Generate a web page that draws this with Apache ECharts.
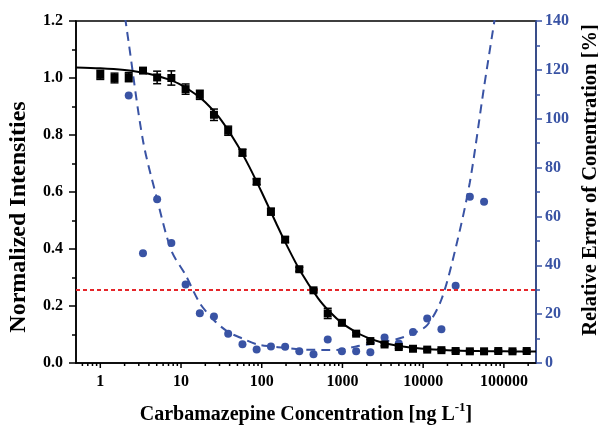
<!DOCTYPE html>
<html>
<head>
<meta charset="utf-8">
<script src="https://cdn.jsdelivr.net/npm/echarts@6/dist/echarts.min.js"></script>
<style>
html,body{margin:0;padding:0;background:#fff;}
#chart{width:598px;height:427px;}
</style>
</head>
<body>
<div id="chart"></div>
<script>
// ---- data ----
const concentrations = [1, 1.5, 2.25, 3.38, 5.06, 7.59, 11.4, 17.1, 25.6, 38.4, 57.7, 86.5, 130, 195, 292, 438, 657, 985, 1478, 2217, 3325, 4988, 7482, 11223, 16834, 25251, 37877, 56815, 85223, 127834, 191751];
const intensities = [1.011, 1.000, 1.003, 1.026, 1.002, 1.000, 0.961, 0.941, 0.871, 0.815, 0.738, 0.636, 0.531, 0.433, 0.329, 0.255, 0.174, 0.141, 0.103, 0.077, 0.065, 0.056, 0.050, 0.047, 0.045, 0.042, 0.041, 0.041, 0.042, 0.041, 0.042];
const intensityErrors = [0.016, 0.017, 0.016, 0.007, 0.022, 0.025, 0.018, 0.016, 0.020, 0.016, 0.012, 0.010, 0.012, 0.010, 0.007, 0.006, 0.018, 0.008, 0.006, 0.005, 0.005, 0.005, 0.005, 0.005, 0.005, 0.005, 0.005, 0.005, 0.005, 0.005, 0.005];
const fitX = [0.5, 1, 2, 3, 5, 7, 10, 15, 20, 30, 50, 70, 100, 150, 200, 300, 500, 700, 1000, 1500, 2000, 3000, 5000, 10000, 20000, 50000, 100000, 250000];
const fitY = [1.037, 1.034, 1.028, 1.021, 1.008, 0.995, 0.976, 0.944, 0.915, 0.860, 0.765, 0.689, 0.599, 0.492, 0.418, 0.323, 0.227, 0.179, 0.139, 0.107, 0.090, 0.073, 0.060, 0.050, 0.045, 0.042, 0.041, 0.040];
const relErrorPoints = [null, null, 109.5, 44.9, 67.0, 49.1, 32.1, 20.4, 19.0, 12.0, 7.7, 5.5, 6.8, 6.7, 4.8, 3.6, 9.6, 4.8, 4.8, 4.4, 10.4, 8.0, 12.7, 18.2, 13.8, 31.6, 68.1, 66.0, null, null, null];
const relErrorCurve = [null, 172, 131, 91, 67, 46, 36, 24.5, 17.5, 12.7, 10, 7.7, 6.8, 6.2, 5.6, 5.4, 5.3, 5.5, 6.8, 7.8, 8.8, 10, 12, 15.5, 26, 47, 74, 113, 150, null, null];
const threshold = 30;
const xMajorTicks = [1, 10, 100, 1000, 10000, 100000];
const xMinorTicks = [0.6, 0.7, 0.8, 0.9, 2, 3, 4, 5, 6, 7, 8, 9, 20, 30, 40, 50, 60, 70, 80, 90, 200, 300, 400, 500, 600, 700, 800, 900, 2000, 3000, 4000, 5000, 6000, 7000, 8000, 9000, 20000, 30000, 40000, 50000, 60000, 70000, 80000, 90000, 200000];

// ---- build ----
const BLUE = '#3953a4';
const FONT = '"Liberation Serif", "Times New Roman", serif';
const pairs = (xs, ys) => xs.map((x, i) => [x, ys[i]]).filter(p => p[1] !== null && p[1] !== undefined);
const errData = concentrations.map((c, i) => [c, intensities[i] - intensityErrors[i], intensities[i] + intensityErrors[i]]);

const chart = echarts.init(document.getElementById('chart'), null, {renderer: 'canvas'});

function tickSeries(values, len) {
  return {
    type: 'custom', xAxisIndex: 0, yAxisIndex: 0, clip: false, silent: true, z: 5,
    data: values.map(v => [v]),
    renderItem: function (params, api) {
      const p = api.coord([api.value(0), 0]);
      return {type: 'line', shape: {x1: p[0], y1: p[1], x2: p[0], y2: p[1] + len},
        style: {stroke: '#000', lineWidth: 1.5}};
    }
  };
}

chart.setOption({
  animation: false,
  backgroundColor: '#fff',
  grid: {left: 76, right: 62, top: 21, bottom: 64, containLabel: false, outerBoundsMode: 'none',
    show: true, borderColor: '#000', borderWidth: 1.5, backgroundColor: 'transparent'},
  xAxis: {
    type: 'log', min: 0.5, max: 250000, logBase: 10,
    axisLine: {lineStyle: {color: '#000', width: 1.5}},
    axisTick: {show: false},
    splitLine: {show: false},
    axisLabel: {
      color: '#000', fontFamily: FONT, fontWeight: 'bold', fontSize: 16, margin: 11,
      formatter: function (v) {
        const l = Math.log10(v);
        return Math.abs(l - Math.round(l)) < 1e-6 ? String(Math.round(v)) : '';
      }
    },
    name: '{t|Carbamazepine Concentration [ng L}{s|-1}{t|]}',
    nameLocation: 'middle', nameGap: 38,
    nameTextStyle: {
      rich: {
        t: {fontFamily: FONT, fontWeight: 'bold', fontSize: 20, color: '#000', verticalAlign: 'bottom', lineHeight: 24},
        s: {fontFamily: FONT, fontWeight: 'bold', fontSize: 13, color: '#000', verticalAlign: 'top', lineHeight: 24, padding: [0, 0, 11, 0]}
      }
    }
  },
  yAxis: [
    {
      type: 'value', min: 0, max: 1.2, interval: 0.2, position: 'left',
      axisLine: {show: true, lineStyle: {color: '#000', width: 1.5}},
      axisTick: {show: true, length: 7, lineStyle: {color: '#000', width: 1.5}},
      minorTick: {show: true, splitNumber: 2, length: 4, lineStyle: {color: '#000', width: 1.5}},
      splitLine: {show: false},
      axisLabel: {color: '#000', fontFamily: FONT, fontWeight: 'bold', fontSize: 16, margin: 13,
        formatter: v => v.toFixed(1)},
      name: 'Normalized Intensities', nameLocation: 'middle', nameGap: 45, nameRotate: 90,
      nameTextStyle: {fontFamily: FONT, fontWeight: 'bold', fontSize: 24, color: '#000', padding: [0, 50, 0, 0]}
    },
    {
      type: 'value', min: 0, max: 140, interval: 20, position: 'right',
      axisLine: {show: true, lineStyle: {color: BLUE, width: 1.5}},
      axisTick: {show: true, length: 6, lineStyle: {color: BLUE, width: 1.5}},
      minorTick: {show: true, splitNumber: 2, length: 4, lineStyle: {color: BLUE, width: 1.5}},
      splitLine: {show: false},
      axisLabel: {color: BLUE, fontFamily: FONT, fontWeight: 'bold', fontSize: 16, margin: 9},
      name: 'Relative Error of Conentration [%]', nameLocation: 'middle', nameGap: 43, nameRotate: 90,
      nameTextStyle: {fontFamily: FONT, fontWeight: 'bold', fontSize: 20.5, color: '#000', padding: [0, 0, 0, 24]}
    }
  ],
  series: [
    tickSeries(xMajorTicks, 5),
    tickSeries(xMinorTicks, 3),
    {
      type: 'line', yAxisIndex: 1, data: pairs(concentrations, relErrorCurve),
      smooth: 0.3, showSymbol: false, symbol: 'none', clip: true, z: 2,
      lineStyle: {color: BLUE, width: 2, type: [9, 6]},
      markLine: {
        silent: true, symbol: 'none', label: {show: false},
        lineStyle: {color: '#e5262a', width: 2, type: [4, 3]},
        data: [{yAxis: threshold}]
      }
    },
    {
      type: 'scatter', yAxisIndex: 1, data: pairs(concentrations, relErrorPoints),
      symbol: 'circle', symbolSize: 8, itemStyle: {color: BLUE, opacity: 1}, z: 3
    },
    {
      type: 'line', yAxisIndex: 0, data: pairs(fitX, fitY), smooth: 0.3,
      showSymbol: false, symbol: 'none', lineStyle: {color: '#000', width: 2}, z: 4
    },
    {
      type: 'custom', yAxisIndex: 0, data: errData, z: 5,
      renderItem: function (params, api) {
        const lo = api.coord([api.value(0), api.value(1)]);
        const hi = api.coord([api.value(0), api.value(2)]);
        const w = 4;
        const st = {stroke: '#000', lineWidth: 1.5};
        return {type: 'group', children: [
          {type: 'line', shape: {x1: lo[0], y1: lo[1], x2: hi[0], y2: hi[1]}, style: st},
          {type: 'line', shape: {x1: lo[0] - w, y1: lo[1], x2: lo[0] + w, y2: lo[1]}, style: st},
          {type: 'line', shape: {x1: hi[0] - w, y1: hi[1], x2: hi[0] + w, y2: hi[1]}, style: st}
        ]};
      }
    },
    {
      type: 'scatter', yAxisIndex: 0, data: pairs(concentrations, intensities),
      symbol: 'rect', symbolSize: 8, itemStyle: {color: '#000', opacity: 1}, z: 6
    }
  ]
});
</script>
</body>
</html>
